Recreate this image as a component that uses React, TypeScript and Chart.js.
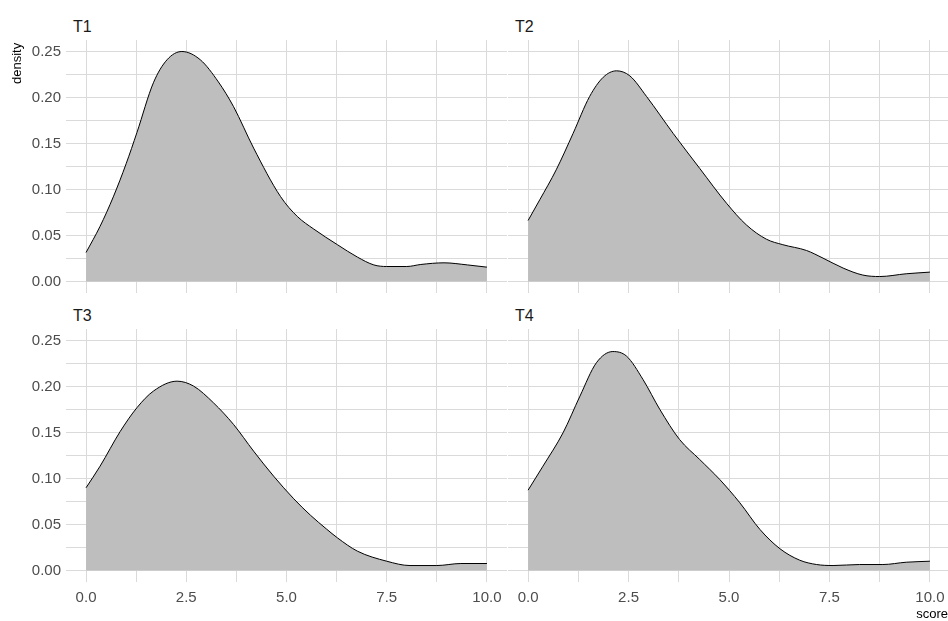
import React, { useEffect, useRef } from 'react';
import { Chart, registerables } from 'chart.js';

Chart.register(...registerables);

// ---- data ----
const panelTitles = ['T1', 'T2', 'T3', 'T4'];

const t1Score = [0, 0.35, 0.68, 1.0, 1.27, 1.68, 2.02, 2.39, 2.85, 3.3, 3.68, 4.18, 4.85, 5.27, 5.68, 6.27, 6.77, 7.18, 7.5, 8.0, 8.35, 8.93, 9.52, 10];
const t1Density = [0.0315, 0.06, 0.092, 0.128, 0.162, 0.216, 0.241, 0.25, 0.241, 0.217, 0.19, 0.145, 0.0924, 0.0707, 0.057, 0.04, 0.0265, 0.018, 0.0163, 0.0163, 0.0185, 0.0203, 0.018, 0.0156];

const t2Score = [0, 0.29, 0.7, 1.12, 1.53, 1.87, 2.2, 2.53, 2.95, 3.61, 4.27, 4.94, 5.43, 5.93, 6.34, 6.93, 7.34, 7.84, 8.33, 8.75, 9.41, 10];
const t2Density = [0.0663, 0.0888, 0.1214, 0.161, 0.201, 0.222, 0.229, 0.2236, 0.201, 0.161, 0.123, 0.085, 0.0616, 0.046, 0.04, 0.0337, 0.0254, 0.0146, 0.007, 0.0054, 0.0084, 0.0102];

const t3Score = [0, 0.35, 0.85, 1.27, 1.68, 2.27, 2.68, 3.18, 3.68, 4.18, 4.68, 5.18, 5.6, 6.0, 6.27, 6.77, 7.5, 8.08, 8.75, 9.35, 10];
const t3Density = [0.0899, 0.1134, 0.151, 0.177, 0.195, 0.2058, 0.2005, 0.1822, 0.1587, 0.1297, 0.1025, 0.078, 0.06, 0.045, 0.0355, 0.021, 0.0101, 0.0054, 0.0054, 0.0076, 0.0076];

const t4Score = [0, 0.37, 0.87, 1.29, 1.7, 2.11, 2.45, 2.86, 3.28, 3.77, 4.27, 4.77, 5.27, 5.77, 6.27, 6.76, 7.18, 7.59, 8.25, 8.83, 9.41, 10];
const t4Density = [0.0873, 0.1134, 0.1497, 0.1895, 0.2258, 0.238, 0.233, 0.2076, 0.175, 0.1424, 0.1207, 0.0989, 0.0736, 0.0446, 0.0236, 0.0112, 0.0065, 0.0054, 0.0065, 0.0065, 0.009, 0.0101];

const xGridValues = [0, 1.25, 2.5, 3.75, 5, 6.25, 7.5, 8.75, 10];
const xLabelValues = [0, 2.5, 5, 7.5, 10];
const yGridValues = [0, 0.025, 0.05, 0.075, 0.1, 0.125, 0.15, 0.175, 0.2, 0.225, 0.25];
const yLabelValues = [0, 0.05, 0.1, 0.15, 0.2, 0.25];

const xTitle = 'score';
const yTitle = 'density';

// ---- style ----
const FONT = '"Liberation Sans", Arial, sans-serif';
const GRID = '#DADADA';
const TICK_COLOR = '#4D4D4D';

const isIn = (arr: number[], v: number) => arr.some((a) => Math.abs(a - v) < 1e-9);

type PanelProps = {
  score: number[];
  density: number[];
  left: number;
  top: number;
  width: number;
  height: number;
  yAxisW: number;
  xAxisH: number;
  showY: boolean;
  showX: boolean;
};

function Panel(props: PanelProps) {
  const ref = useRef<HTMLCanvasElement | null>(null);
  useEffect(() => {
    if (!ref.current) return;
    const { score, density, yAxisW, xAxisH, showY, showX } = props;
    const chart = new Chart(ref.current, {
      type: 'line',
      data: {
        datasets: [
          {
            data: score.map((x, i) => ({ x, y: density[i] })),
            borderColor: '#000000',
            borderWidth: 1,
            backgroundColor: '#BEBEBE',
            fill: 'origin',
            pointRadius: 0,
            pointHoverRadius: 0,
            cubicInterpolationMode: 'monotone',
          },
        ],
      },
      options: {
        animation: false,
        responsive: false,
        devicePixelRatio: 1,
        layout: { padding: 0 },
        events: [],
        plugins: {
          legend: { display: false },
          tooltip: { enabled: false },
          title: { display: false },
        },
        scales: {
          x: {
            type: 'linear',
            min: -0.5,
            max: 10.5,
            afterBuildTicks: (s: any) => {
              s.ticks = xGridValues.map((v) => ({ value: v }));
            },
            afterFit: (s: any) => {
              s.height = xAxisH;
              s.paddingLeft = 0;
              s.paddingRight = 0;
              s.paddingTop = 0;
              s.paddingBottom = 0;
            },
            grid: { color: GRID, lineWidth: 1, drawTicks: false },
            border: { display: false },
            ticks: {
              display: showX,
              padding: 7,
              autoSkip: false,
              maxRotation: 0,
              color: TICK_COLOR,
              font: { family: FONT, size: 15 },
              callback: (v: any) => (isIn(xLabelValues, Number(v)) ? Number(v).toFixed(1) : ''),
            },
          },
          y: {
            type: 'linear',
            min: -0.0125,
            max: 0.2625,
            afterBuildTicks: (s: any) => {
              s.ticks = yGridValues.map((v) => ({ value: v }));
            },
            afterFit: (s: any) => {
              s.width = yAxisW;
              s.paddingLeft = 0;
              s.paddingRight = 0;
              s.paddingTop = 0;
              s.paddingBottom = 0;
            },
            grid: { color: GRID, lineWidth: 1, drawTicks: false },
            border: { display: false },
            ticks: {
              display: showY,
              padding: 5,
              autoSkip: false,
              color: TICK_COLOR,
              font: { family: FONT, size: 15 },
              callback: (v: any) => (isIn(yLabelValues, Number(v)) ? Number(v).toFixed(2) : ''),
            },
          },
        },
      },
    } as any);
    return () => chart.destroy();
  }, []);
  return (
    <canvas
      ref={ref}
      width={props.width}
      height={props.height}
      style={{ position: 'absolute', left: props.left, top: props.top, width: props.width, height: props.height }}
    />
  );
}

export default function App() {
  const stripStyle = (left: number, top: number): React.CSSProperties => ({
    position: 'absolute',
    left,
    top,
    fontFamily: FONT,
    fontSize: 16,
    lineHeight: '16px',
    color: '#1A1A1A',
    whiteSpace: 'nowrap',
  });
  return (
    <div
      style={{
        position: 'absolute',
        left: 0,
        top: 0,
        width: 948,
        height: 621,
        overflow: 'hidden',
        background: '#FFFFFF',
      }}
    >
      <Panel score={t1Score} density={t1Density} left={0} top={40} width={507} height={253} yAxisW={66} xAxisH={0} showY={true} showX={false} />
      <Panel score={t2Score} density={t2Density} left={508} top={40} width={442} height={253} yAxisW={0} xAxisH={0} showY={false} showX={false} />
      <Panel score={t3Score} density={t3Density} left={0} top={329} width={507} height={292} yAxisW={66} xAxisH={39} showY={true} showX={true} />
      <Panel score={t4Score} density={t4Density} left={508} top={329} width={442} height={292} yAxisW={0} xAxisH={39} showY={false} showX={true} />

      <div style={stripStyle(73, 19)}>{panelTitles[0]}</div>
      <div style={stripStyle(515, 19)}>{panelTitles[1]}</div>
      <div style={stripStyle(73, 308)}>{panelTitles[2]}</div>
      <div style={stripStyle(515, 308)}>{panelTitles[3]}</div>

      <div
        style={{
          position: 'absolute',
          left: 10,
          top: 84,
          fontFamily: FONT,
          fontSize: 13,
          lineHeight: '13px',
          color: '#000000',
          whiteSpace: 'nowrap',
          transform: 'rotate(-90deg)',
          transformOrigin: '0 0',
        }}
      >
        {yTitle}
      </div>
      <div
        style={{
          position: 'absolute',
          right: 0,
          top: 607,
          fontFamily: FONT,
          fontSize: 13,
          lineHeight: '13px',
          color: '#000000',
          whiteSpace: 'nowrap',
        }}
      >
        {xTitle}
      </div>
    </div>
  );
}
